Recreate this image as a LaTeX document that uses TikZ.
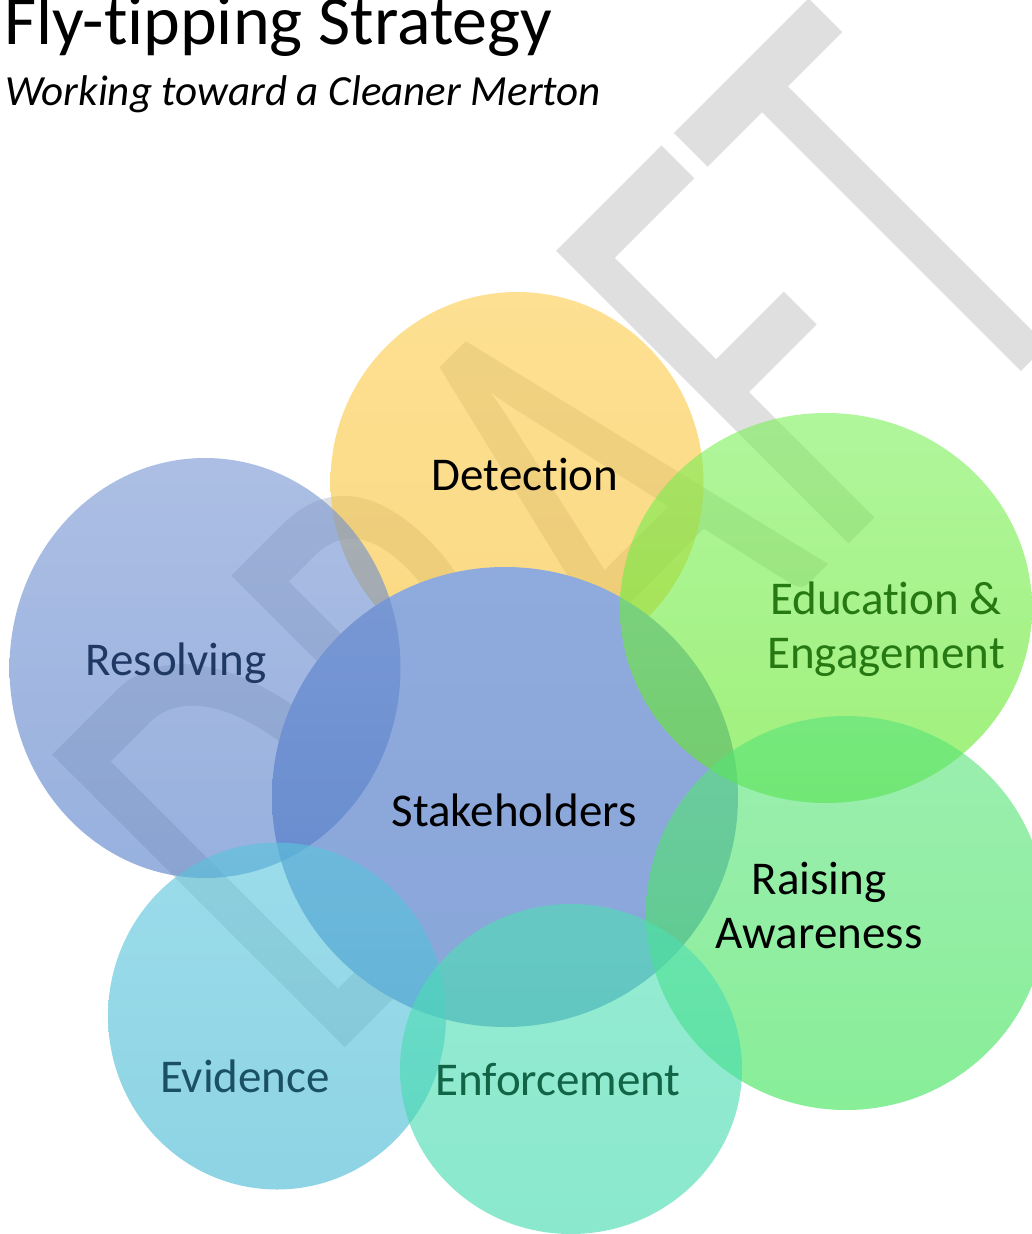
\documentclass[tikz,border=0pt]{standalone}
\usepackage{fontspec}
\setmainfont{Carlito}[Ligatures=NoCommon]
\usetikzlibrary{shapes.geometric}

% watermark grey and label colours
\definecolor{wmgray}{RGB}{223,223,223}
\definecolor{resText}{RGB}{31,56,100}
\definecolor{eduText}{RGB}{38,120,18}
\definecolor{eviText}{RGB}{26,80,100}
\definecolor{enfText}{RGB}{18,100,70}

% circle fills (top / bottom of each gradient)
\definecolor{detTop}{RGB}{252,203,73}
\definecolor{detBot}{RGB}{247,192,48}
\definecolor{stkTop}{RGB}{143,170,220}
\definecolor{stkBot}{RGB}{137,166,218}
\definecolor{resTop}{RGB}{117,147,210}
\definecolor{resBot}{RGB}{82,124,200}
\definecolor{eduTop}{RGB}{123,240,90}
\definecolor{eduBot}{RGB}{97,230,34}
\definecolor{raiTop}{RGB}{90,227,123}
\definecolor{raiBot}{RGB}{57,227,83}
\definecolor{eviTop}{RGB}{88,197,220}
\definecolor{eviBot}{RGB}{67,183,210}
\definecolor{enfTop}{RGB}{80,223,180}
\definecolor{enfBot}{RGB}{60,217,170}

\tikzset{
  blob/.style={ellipse, draw=none, inner sep=0pt, outer sep=0pt},
  glass/.style={blob, fill opacity=0.6},
  label/.style={font=\fontsize{47}{54}\selectfont, inner sep=0pt, align=center},
  watermark/.style={anchor=base west, rotate=45, xscale=0.637, inner sep=0pt,
    text=wmgray, font=\fontsize{645}{645}\selectfont}
}

\begin{document}
\begin{tikzpicture}[x=1pt,y=-1pt]
\useasboundingbox (0,0) rectangle (1032,1234);

% heading
\node[anchor=base west, inner sep=0pt, font=\fontsize{70}{84}\selectfont] (title) at (4,44) {Fly-tipping Strategy};
\node[anchor=base west, inner sep=0pt, font=\fontsize{43}{50}\selectfont\itshape] (subtitle) at (5,105) {Working toward a Cleaner Merton};

% diagonal watermark, behind the circles
\node[watermark] (draft) at (325,1068) {DRAFT};

% circles, back to front
\node[glass, minimum width=373, minimum height=380, top color=detTop, bottom color=detBot] (detC) at (517,482) {};
\node[blob, minimum width=466, minimum height=460, top color=stkTop, bottom color=stkBot] (stkC) at (505,797) {};
\node[glass, minimum width=391, minimum height=420, top color=resTop, bottom color=resBot] (resC) at (205,668) {};
\node[glass, minimum width=412, minimum height=390, top color=eduTop, bottom color=eduBot] (eduC) at (826,608) {};
\node[glass, minimum width=400, minimum height=394, top color=raiTop, bottom color=raiBot] (raiC) at (846,913) {};
\node[glass, minimum width=338, minimum height=347, top color=eviTop, bottom color=eviBot] (eviC) at (277,1016) {};
\node[glass, minimum width=342, minimum height=330, top color=enfTop, bottom color=enfBot] (enfC) at (571,1069) {};

% labels
\node[label, anchor=base] (det) at (525,490) {Detection};
\node[label, anchor=base] (stk) at (514,826) {Stakeholders};
\node[label, anchor=base, text=resText] (res) at (176,675) {Resolving};
\node[label, text=eduText] (edu) at (886,629) {Education \&\\Engagement};
\node[label] (rai) at (819,905) {Raising\\Awareness};
\node[label, anchor=base, text=eviText] (evi) at (245,1092) {Evidence};
\node[label, anchor=base, text=enfText] (enf) at (558,1095) {Enforcement};
\end{tikzpicture}
\end{document}
